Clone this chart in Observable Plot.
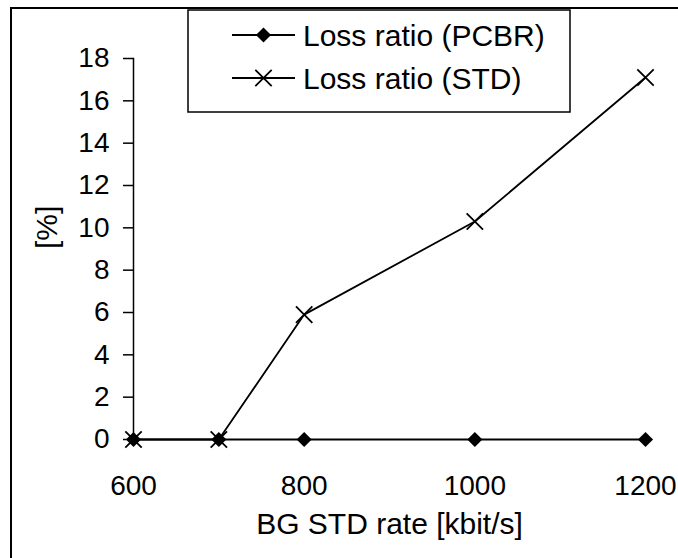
<!DOCTYPE html>
<html>
<head>
<meta charset="utf-8">
<script src="https://cdn.jsdelivr.net/npm/d3@7"></script>
<script src="https://cdn.jsdelivr.net/npm/@observablehq/plot@0.6"></script>
<style>
  html, body { margin: 0; padding: 0; background: #fff; overflow: hidden; }
  #wrap { position: relative; width: 678px; height: 558px; font-family: "Liberation Sans", Arial, sans-serif; }
  #border { position: absolute; left: 10px; top: 7px; width: 720px; height: 600px; border-left: 2px solid #000; border-top: 2px solid #000; box-sizing: border-box; }
  #chart { position: absolute; left: 0; top: 0; }
  #legend { position: absolute; left: 0; top: 0; }
</style>
</head>
<body>
<div id="wrap">
  <div id="border"></div>
  <div id="chart"></div>
  <svg id="legend" width="678" height="558"></svg>
</div>
<script>
const rates = [600, 700, 800, 1000, 1200];
const lossPCBR = [0, 0, 0, 0, 0];
const lossSTD = [0, 0, 5.9, 10.3, 17.1];
const seriesNames = ["Loss ratio (PCBR)", "Loss ratio (STD)"];
const xTicks = [600, 800, 1000, 1200];
const yTicks = [0, 2, 4, 6, 8, 10, 12, 14, 16, 18];
const xLabel = "BG STD rate [kbit/s]";
const yLabel = "[%]";

const pcbrData = rates.map((r, i) => ({x: r, y: lossPCBR[i]}));
const stdData = rates.map((r, i) => ({x: r, y: lossSTD[i]}));

const chart = Plot.plot({
  width: 678,
  height: 558,
  marginLeft: 133,
  marginRight: 33,
  marginTop: 58,
  marginBottom: 119,
  x: {domain: [600, 1200]},
  y: {domain: [0, 18]},
  style: {fontFamily: "'Liberation Sans', Arial, sans-serif", fontSize: "28px", color: "#000", background: "transparent"},
  marks: [
    Plot.frame({anchor: "left", stroke: "#000", strokeWidth: 1.5}),
    Plot.axisY({ticks: yTicks, tickSize: 10, tickPadding: 14, label: null, strokeWidth: 1.5, fontSize: 28, tickFormat: d3.format("d")}),
    Plot.axisX({ticks: xTicks, tickSize: 0, tickPadding: 36, label: null, fontSize: 28, tickFormat: d3.format("d")}),
    Plot.text([yLabel], {frameAnchor: "left", dx: -86, rotate: -90, fontSize: 30}),
    Plot.text([xLabel], {frameAnchor: "bottom", dy: 94, fontSize: 30}),
    Plot.line(pcbrData, {x: "x", y: "y", stroke: "#000", strokeWidth: 2}),
    Plot.dot(pcbrData, {x: "x", y: "y", symbol: "diamond2", r: 6.8, fill: "#000", stroke: "none"}),
    Plot.line(stdData, {x: "x", y: "y", stroke: "#000", strokeWidth: 1.8}),
    Plot.dot(stdData, {x: "x", y: "y", symbol: "times", r: 7.5, stroke: "#000", strokeWidth: 1.8})
  ]
});
document.getElementById("chart").appendChild(chart);

// Legend
const lg = d3.select("#legend");
lg.append("rect").attr("x", 188).attr("y", 10).attr("width", 382).attr("height", 102)
  .attr("fill", "#fff").attr("stroke", "#000").attr("stroke-width", 1.5);
const rows = [
  {name: seriesNames[0], y: 35, sym: d3.symbol(d3.symbolDiamond2, Math.PI * 6.8 * 6.8)(), filled: true},
  {name: seriesNames[1], y: 78, sym: d3.symbol(d3.symbolTimes, Math.PI * 7.5 * 7.5)(), filled: false}
];
rows.forEach(r => {
  lg.append("line").attr("x1", 232).attr("x2", 295).attr("y1", r.y).attr("y2", r.y)
    .attr("stroke", "#000").attr("stroke-width", r.filled ? 2 : 1.8);
  lg.append("path").attr("d", r.sym).attr("transform", `translate(263.5,${r.y})`)
    .attr("fill", r.filled ? "#000" : "none").attr("stroke", r.filled ? "none" : "#000").attr("stroke-width", 1.8);
  lg.append("text").attr("x", 303).attr("y", r.y).attr("dy", "0.35em")
    .attr("font-family", "'Liberation Sans', Arial, sans-serif").attr("font-size", 30)
    .text(r.name);
});
</script>
</body>
</html>
